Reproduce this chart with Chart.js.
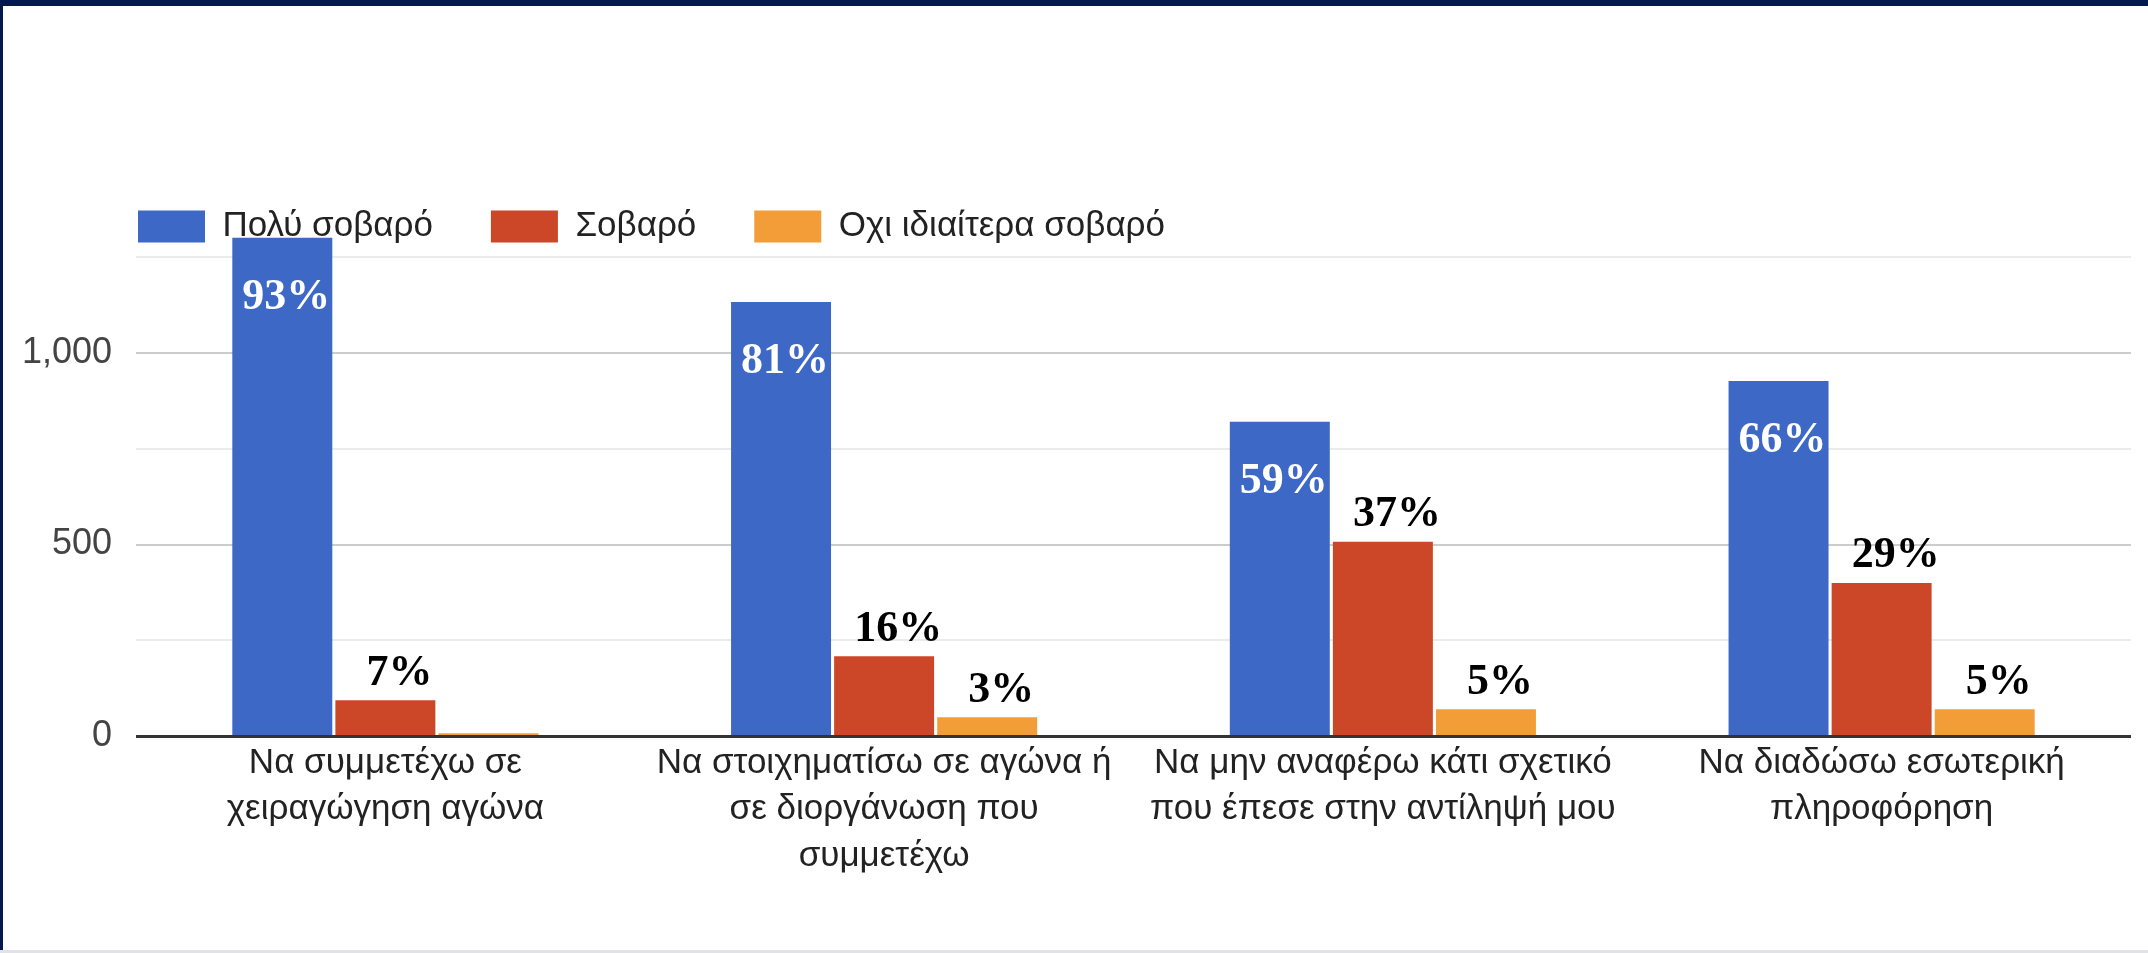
<!DOCTYPE html>
<html>
<head>
<meta charset="utf-8">
<title>Σοβαρότητα παραβάσεων</title>
<script src="https://cdn.jsdelivr.net/npm/chart.js@4"></script>
<style>
  html, body { margin: 0; padding: 0; background: #fff; }
  #wrap { position: relative; width: 2148px; height: 953px; overflow: hidden; }
  .frame { position: absolute; pointer-events: none; }
  #frameTop { left: 0; top: 0; width: 2148px; height: 6px; background: #011a4b; }
  #frameLeft { left: 0; top: 0; width: 3px; height: 953px; background: #011a4b; }
  #frameBottom { left: 0; bottom: 0; width: 2148px; height: 3px; background: #e1e1e8; }
</style>
</head>
<body>
<div id="wrap">
  <canvas id="chart"></canvas>
  <div class="frame" id="frameTop"></div>
  <div class="frame" id="frameLeft"></div>
  <div class="frame" id="frameBottom"></div>
</div>
<script>
// data
const categories = [
  ['Να συμμετέχω σε', 'χειραγώγηση αγώνα'],
  ['Να στοιχηματίσω σε αγώνα ή', 'σε διοργάνωση που', 'συμμετέχω'],
  ['Να μην αναφέρω κάτι σχετικό', 'που έπεσε στην αντίληψή μου'],
  ['Να διαδώσω εσωτερική', 'πληροφόρηση']
];
const seriesNames = ['Πολύ σοβαρό', 'Σοβαρό', 'Οχι ιδιαίτερα σοβαρό'];
const veryValues = [1300, 1132, 820, 926];
const seriousValues = [94, 209, 507, 400];
const notValues = [8, 50, 71, 71];
const veryPct = ['93%', '81%', '59%', '66%'];
const seriousPct = ['7%', '16%', '37%', '29%'];
const notPct = ['', '3%', '5%', '5%'];
const gridValues = [0, 250, 500, 750, 1000, 1250];
const yTickLabels = [0, 500, 1000];

const FONT = '"Liberation Sans", Arial, sans-serif';
const LEGEND_SHIFT = 58;
const LEGEND_H = 86.5;
const Y_AXIS_W = 114;

// legend sits over the top of the plot like in the original, so cut its height and move it right
const legendPlace = {
  id: 'legendPlace',
  beforeLayout(chart) {
    const lg = chart.legend;
    if (lg && !lg._patched) {
      const fit = lg.fit.bind(lg);
      lg.fit = function () { fit(); this.height = LEGEND_H; };
      lg._patched = true;
    }
  },
  afterLayout(chart) {
    const lg = chart.legend;
    if (lg) {
      lg.left += LEGEND_SHIFT;
      lg.right += LEGEND_SHIFT;
      lg.bottom += 40; // so the text is not clipped
    }
  }
};

// percentage labels on the bars
const pctLabels = {
  id: 'pctLabels',
  afterDatasetsDraw(chart) {
    const ctx = chart.ctx;
    ctx.save();
    ctx.font = 'bold 44px "Liberation Serif", "Times New Roman", serif';
    ctx.textAlign = 'center';
    ctx.textBaseline = 'middle';
    chart.data.datasets.forEach((ds, di) => {
      chart.getDatasetMeta(di).data.forEach((bar, i) => {
        const txt = ds.pct[i];
        if (!txt) return;
        if (di === 0) {
          ctx.fillStyle = '#ffffff';
          ctx.fillText(txt, bar.x + 4, bar.y + 60);
        } else {
          ctx.fillStyle = '#000000';
          ctx.fillText(txt, bar.x + 14, bar.y - 27);
        }
      });
    });
    ctx.restore();
  }
};

new Chart(document.getElementById('chart'), {
  type: 'bar',
  data: {
    labels: categories,
    datasets: [
      { label: seriesNames[0], data: veryValues, pct: veryPct, backgroundColor: '#3d68c5' },
      { label: seriesNames[1], data: seriousValues, pct: seriousPct, backgroundColor: '#cc4628' },
      { label: seriesNames[2], data: notValues, pct: notPct, backgroundColor: '#f39d39' }
    ]
  },
  options: {
    responsive: true,
    maintainAspectRatio: false,
    animation: false,
    categoryPercentage: 0.62,
    barPercentage: 0.97,
    layout: { padding: { top: 151, left: 22, right: 17, bottom: 70 } },
    plugins: {
      tooltip: { enabled: false },
      legend: {
        position: 'top',
        align: 'start',
        labels: {
          boxWidth: 67,
          boxHeight: 32,
          padding: 58,
          color: '#222',
          font: { size: 35, family: FONT }
        }
      }
    },
    scales: {
      x: {
        grid: { display: false, drawTicks: false },
        border: { display: false },
        ticks: {
          padding: 4,
          color: '#222',
          maxRotation: 0,
          autoSkip: false,
          font: { size: 35, family: FONT, lineHeight: 1.32 }
        }
      },
      y: {
        min: 0,
        max: 1300,
        border: { display: false },
        afterBuildTicks: scale => { scale.ticks = gridValues.map(v => ({ value: v })); },
        afterFit: scale => { scale.width = Y_AXIS_W; },
        grid: {
          drawTicks: false,
          color: c => c.tick.value === 0 ? '#333333' : (c.tick.value % 500 === 0 ? '#cccccc' : '#ebebeb'),
          lineWidth: c => c.tick.value === 0 ? 3 : 2
        },
        ticks: {
          padding: 24,
          color: '#444',
          font: { size: 36, family: FONT },
          callback: v => yTickLabels.includes(v) ? v.toLocaleString('en-US') : ''
        }
      }
    }
  },
  plugins: [legendPlace, pctLabels]
});
</script>
</body>
</html>
